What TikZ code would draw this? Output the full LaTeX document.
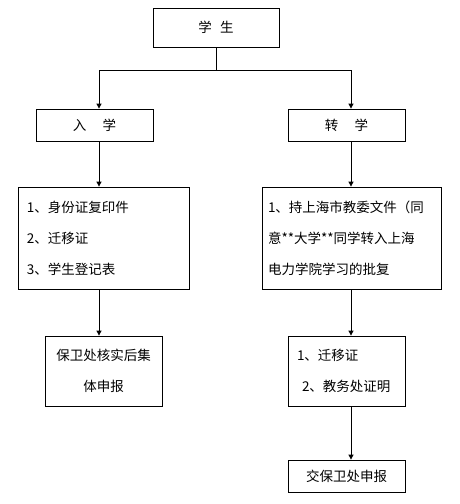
\documentclass[tikz,border=0pt]{standalone}
\usepackage{fontspec}
\newfontfamily\cjk{Noto Sans CJK SC}
\usepackage{tikz}
\usetikzlibrary{arrows.meta}

\begin{document}
\begin{tikzpicture}[x=1pt,y=-1pt,
    box/.style={draw, line width=0.8pt, inner sep=0pt, font=\cjk\fontsize{13.5}{31}\selectfont},
    arr/.style={-{Triangle[length=5pt,width=5pt]}, line width=0.8pt}]
        \useasboundingbox (0,0) rectangle (459,504);
        % Student
        \node[box, minimum width=126pt, minimum height=39pt] (student) at (216,27.5) {学\hspace{0.6em}生};
        \coordinate (split) at (216,70);
        \coordinate (lsplit) at (99,70);
        \coordinate (rsplit) at (351,70);
        % Enrolment branch
        \node[box, minimum width=117pt, minimum height=32pt] (ruxue) at (94.5,125) {入\hspace{1.2em}学};
        \node[box, minimum width=171pt, minimum height=102pt, inner xsep=9pt, text width=153pt, align=left] (docsL) at (103.5,238)
          {1、身份证复印件\\2、迁移证\\3、学生登记表};
        \node[box, minimum width=117pt, minimum height=70pt, align=center] (reportL) at (103.5,371)
          {保卫处核实后集\\体申报};
        % Transfer branch
        \node[box, minimum width=117pt, minimum height=32pt] (zhuanxue) at (346.5,125) {转\hspace{1.2em}学};
        \node[box, minimum width=179pt, minimum height=102pt, inner xsep=6pt, text width=167pt, align=left] (docsR) at (351.5,238)
          {1、持上海市教委文件（同\\意**大学**同学转入上海\\电力学院学习的批复};
        \node[box, minimum width=117pt, minimum height=70pt, inner xsep=9pt, text width=99pt, align=left] (certR) at (346.5,371)
          {1、迁移证\\\hspace*{5pt}2、教务处证明};
        \node[box, minimum width=117pt, minimum height=32pt] (reportR) at (346.5,476) {交保卫处申报};
        % Connectors
        \draw[line width=0.8pt] (student.south) -- (split);
        \draw[line width=0.8pt] (lsplit) -- (rsplit);
        \draw[arr] (lsplit) -- (lsplit |- ruxue.north);
        \draw[arr] (rsplit) -- (rsplit |- zhuanxue.north);
        \draw[arr] (lsplit |- ruxue.south) -- (lsplit |- docsL.north);
        \draw[arr] (rsplit |- zhuanxue.south) -- (rsplit |- docsR.north);
        \draw[arr] (lsplit |- docsL.south) -- (lsplit |- reportL.north);
        \draw[arr] (rsplit |- docsR.south) -- (rsplit |- certR.north);
        \draw[arr] (rsplit |- certR.south) -- (rsplit |- reportR.north);
    \end{tikzpicture}
\end{document}
